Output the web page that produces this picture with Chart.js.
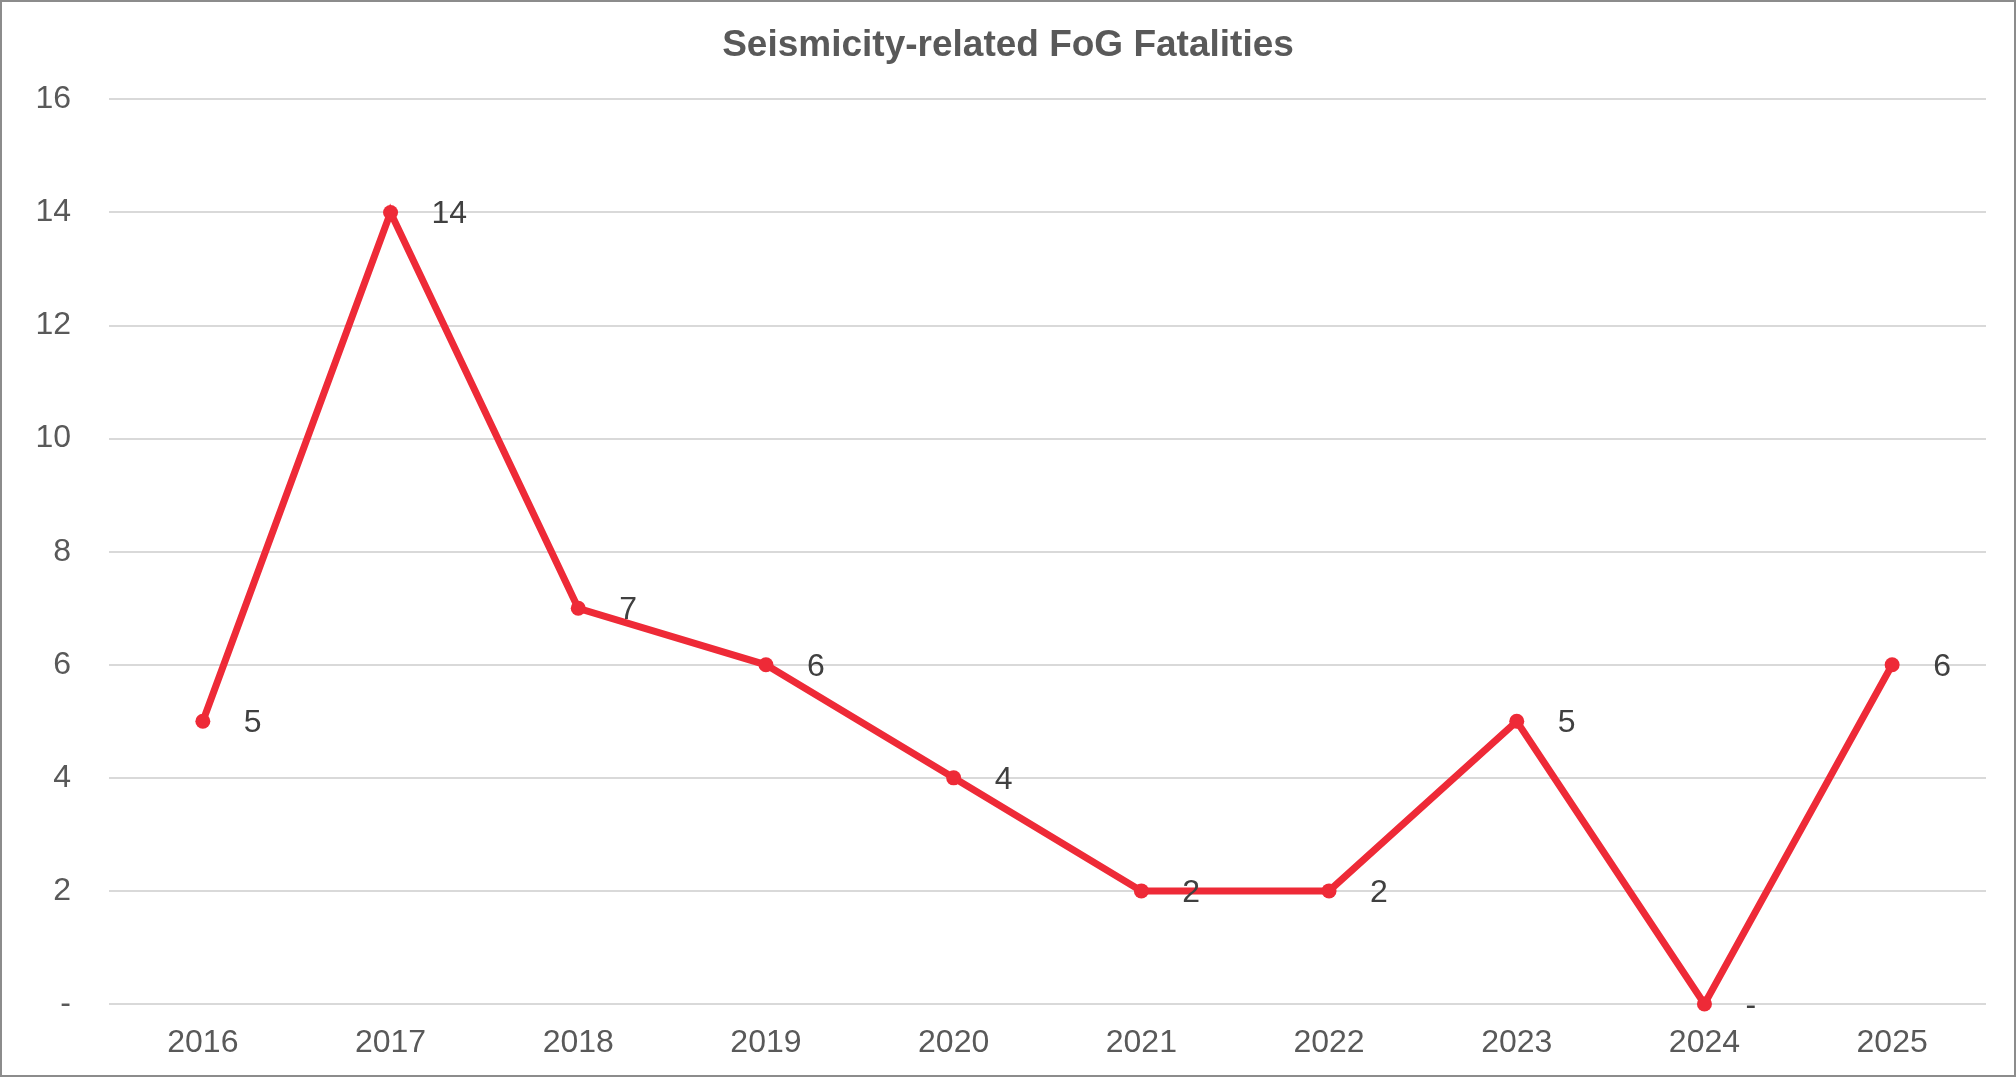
<!DOCTYPE html>
<html>
<head>
<meta charset="utf-8">
<title>Seismicity-related FoG Fatalities</title>
<script src="https://cdn.jsdelivr.net/npm/chart.js@4.4.1/dist/chart.umd.min.js"></script>
<style>
  html, body { margin: 0; padding: 0; background: #fff; }
  #wrap { width: 2016px; height: 1077px; position: relative; }
</style>
</head>
<body>
<div id="wrap"><canvas id="chartFog"></canvas></div>
<script>
const years = ['2016', '2017', '2018', '2019', '2020', '2021', '2022', '2023', '2024', '2025'];
const fatalities = [5, 14, 7, 6, 4, 2, 2, 5, 0, 6];
const yMin = 0;
const yMax = 16;
const yStep = 2;

const fontFamily = "'Liberation Sans', Arial, sans-serif";
const lineRed = '#ee2a37';

// zero shows as a dash, like the accounting format in the original sheet
function fmt(v) {
  return v === 0 ? '-' : String(v);
}

const pointLabels = {
  id: 'pointLabels',
  afterDatasetsDraw(chart) {
    const ctx = chart.ctx;
    const meta = chart.getDatasetMeta(0);
    ctx.save();
    ctx.font = '32px ' + fontFamily;
    ctx.fillStyle = '#404040';
    ctx.textAlign = 'left';
    ctx.textBaseline = 'middle';
    meta.data.forEach((pt, i) => {
      ctx.fillText(fmt(chart.data.datasets[0].data[i]), pt.x + 41, pt.y + 2);
    });
    ctx.restore();
  }
};

const frame = {
  id: 'frame',
  afterDraw(chart) {
    const ctx = chart.ctx;
    ctx.save();
    ctx.strokeStyle = '#8c8c8c';
    ctx.lineWidth = 2;
    ctx.strokeRect(1, 1, chart.width - 2, chart.height - 2);
    ctx.restore();
  }
};

new Chart(document.getElementById('chartFog'), {
  type: 'line',
  data: {
    labels: years,
    datasets: [{
      data: fatalities,
      borderColor: lineRed,
      backgroundColor: lineRed,
      borderWidth: 7,
      pointRadius: 7.5,
      pointHoverRadius: 7.5,
      pointBackgroundColor: lineRed,
      pointBorderWidth: 0,
      tension: 0,
      clip: false
    }]
  },
  options: {
    responsive: true,
    maintainAspectRatio: false,
    animation: false,
    layout: {
      padding: 0
    },
    plugins: {
      legend: { display: false },
      tooltip: { enabled: false },
      title: {
        display: true,
        text: 'Seismicity-related FoG Fatalities',
        color: '#595959',
        font: { family: fontFamily, size: 37, weight: 'bold' },
        padding: { top: 24, bottom: 31 }
      }
    },
    scales: {
      x: {
        offset: true,
        grid: { display: false, drawTicks: false },
        border: { display: false },
        ticks: {
          color: '#595959',
          font: { family: fontFamily, size: 32 },
          padding: 20,
          maxRotation: 0
        },
        afterFit(scale) { scale.height = 73; }
      },
      y: {
        min: yMin,
        max: yMax,
        grid: { color: '#d9d9d9', lineWidth: 2, drawTicks: false },
        border: { display: false },
        ticks: {
          stepSize: yStep,
          color: '#595959',
          font: { family: fontFamily, size: 32 },
          padding: 38,
          callback: (v) => fmt(v)
        },
        afterFit(scale) { scale.width = 109; }
      },
      // empty right-hand axis, only keeps the right margin so the title stays centred on the canvas
      yPad: {
        position: 'right',
        grid: { display: false, drawTicks: false },
        border: { display: false },
        ticks: { display: false },
        afterFit(scale) { scale.width = 30; }
      }
    }
  },
  plugins: [pointLabels, frame]
});
</script>
</body>
</html>
